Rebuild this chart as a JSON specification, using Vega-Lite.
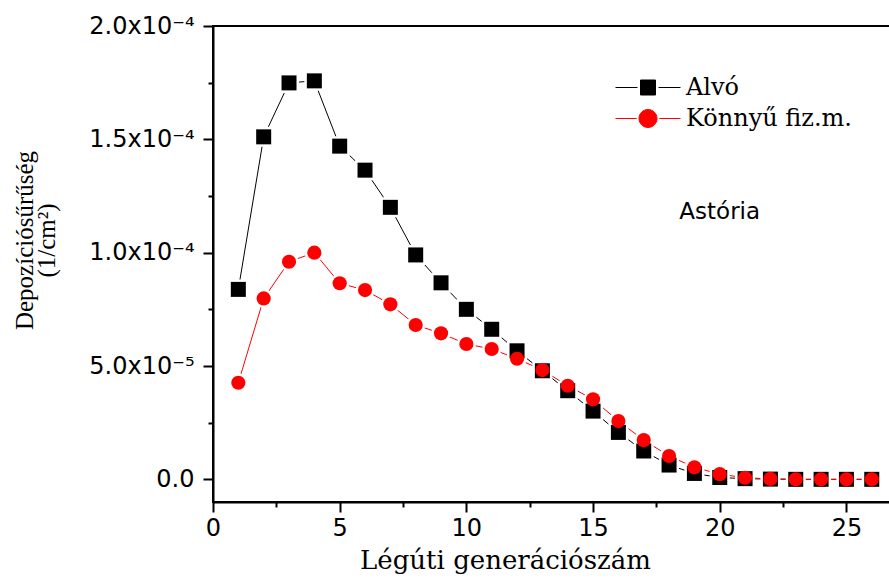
{
  "$schema": "https://vega.github.io/schema/vega-lite/v6.json",
  "width": 677,
  "height": 476,
  "autosize": "none",
  "padding": {"left": 213, "top": 26, "right": 0, "bottom": 81},
  "background": "white",
  "config": {
    "view": {"stroke": "black", "strokeWidth": 2},
    "axis": {"grid": false, "domainColor": "black", "tickColor": "black", "labelColor": "black", "titleColor": "black"}
  },
  "data": {
    "values": [
      {"gen": 1, "series": "Alvó", "value": 8.38e-5},
      {"gen": 2, "series": "Alvó", "value": 1.511e-4},
      {"gen": 3, "series": "Alvó", "value": 1.749e-4},
      {"gen": 4, "series": "Alvó", "value": 1.758e-4},
      {"gen": 5, "series": "Alvó", "value": 1.47e-4},
      {"gen": 6, "series": "Alvó", "value": 1.364e-4},
      {"gen": 7, "series": "Alvó", "value": 1.2e-4},
      {"gen": 8, "series": "Alvó", "value": 9.9e-5},
      {"gen": 9, "series": "Alvó", "value": 8.67e-5},
      {"gen": 10, "series": "Alvó", "value": 7.5e-5},
      {"gen": 11, "series": "Alvó", "value": 6.62e-5},
      {"gen": 12, "series": "Alvó", "value": 5.67e-5},
      {"gen": 13, "series": "Alvó", "value": 4.79e-5},
      {"gen": 14, "series": "Alvó", "value": 3.91e-5},
      {"gen": 15, "series": "Alvó", "value": 3.01e-5},
      {"gen": 16, "series": "Alvó", "value": 2.07e-5},
      {"gen": 17, "series": "Alvó", "value": 1.25e-5},
      {"gen": 18, "series": "Alvó", "value": 6.3e-6},
      {"gen": 19, "series": "Alvó", "value": 2.6e-6},
      {"gen": 20, "series": "Alvó", "value": 8e-7},
      {"gen": 21, "series": "Alvó", "value": 3e-7},
      {"gen": 22, "series": "Alvó", "value": 1e-7},
      {"gen": 23, "series": "Alvó", "value": 0},
      {"gen": 24, "series": "Alvó", "value": 0},
      {"gen": 25, "series": "Alvó", "value": 0},
      {"gen": 26, "series": "Alvó", "value": 0},
      {"gen": 1, "series": "Könnyű fiz.m.", "value": 4.26e-5},
      {"gen": 2, "series": "Könnyű fiz.m.", "value": 7.98e-5},
      {"gen": 3, "series": "Könnyű fiz.m.", "value": 9.6e-5},
      {"gen": 4, "series": "Könnyű fiz.m.", "value": 1.0e-4},
      {"gen": 5, "series": "Könnyű fiz.m.", "value": 8.65e-5},
      {"gen": 6, "series": "Könnyű fiz.m.", "value": 8.35e-5},
      {"gen": 7, "series": "Könnyű fiz.m.", "value": 7.72e-5},
      {"gen": 8, "series": "Könnyű fiz.m.", "value": 6.81e-5},
      {"gen": 9, "series": "Könnyű fiz.m.", "value": 6.44e-5},
      {"gen": 10, "series": "Könnyű fiz.m.", "value": 5.97e-5},
      {"gen": 11, "series": "Könnyű fiz.m.", "value": 5.75e-5},
      {"gen": 12, "series": "Könnyű fiz.m.", "value": 5.32e-5},
      {"gen": 13, "series": "Könnyű fiz.m.", "value": 4.82e-5},
      {"gen": 14, "series": "Könnyű fiz.m.", "value": 4.13e-5},
      {"gen": 15, "series": "Könnyű fiz.m.", "value": 3.53e-5},
      {"gen": 16, "series": "Könnyű fiz.m.", "value": 2.57e-5},
      {"gen": 17, "series": "Könnyű fiz.m.", "value": 1.73e-5},
      {"gen": 18, "series": "Könnyű fiz.m.", "value": 1.03e-5},
      {"gen": 19, "series": "Könnyű fiz.m.", "value": 5.3e-6},
      {"gen": 20, "series": "Könnyű fiz.m.", "value": 2.3e-6},
      {"gen": 21, "series": "Könnyű fiz.m.", "value": 7e-7},
      {"gen": 22, "series": "Könnyű fiz.m.", "value": 2e-7},
      {"gen": 23, "series": "Könnyű fiz.m.", "value": 0},
      {"gen": 24, "series": "Könnyű fiz.m.", "value": 0},
      {"gen": 25, "series": "Könnyű fiz.m.", "value": 0},
      {"gen": 26, "series": "Könnyű fiz.m.", "value": 0}
    ]
  },
  "layer": [
    {
      "mark": {"type": "line", "strokeWidth": 1},
      "encoding": {
        "x": {
          "field": "gen", "type": "quantitative",
          "scale": {"domain": [0, 26.72], "nice": false, "zero": false},
          "axis": {
            "orient": "bottom", "values": [0, 5, 10, 15, 20, 25],
            "tickSize": 10, "tickWidth": 2, "domainWidth": 2,
            "labelFont": "DejaVu Sans", "labelFontSize": 24, "labelPadding": 4,
            "labelFlush": false, "labelOverlap": false, "labelBound": false,
            "title": "Légúti generációszám", "titleFont": "DejaVu Serif", "titleFontSize": 26,
            "titleFontWeight": "normal", "titleX": 292, "titleY": 66,
            "titleBaseline": "alphabetic", "titleAlign": "center", "titleAnchor": null
          }
        },
        "y": {
          "field": "value", "type": "quantitative",
          "scale": {"domain": [-1.0e-5, 2.0e-4], "nice": false, "zero": false},
          "axis": {
            "orient": "left", "values": [0, 5e-5, 1e-4, 1.5e-4, 2e-4],
            "tickSize": 10, "tickWidth": 2, "domainWidth": 2,
            "labelFont": "DejaVu Sans", "labelFontSize": 24, "labelPadding": 9,
            "labelOverlap": false, "labelBound": false, "labelFlush": false,
            "labelExpr": "datum.value === 0 ? '0.0' : (datum.value < 9e-5 ? format(datum.value * 1e5, '.1f') + 'x10⁻⁵' : format(datum.value * 1e4, '.1f') + 'x10⁻⁴')",
            "title": ["Depozíciósűrűség", "(1/cm²)"],
            "titleFont": "Liberation Serif", "titleFontSize": 25, "titleFontWeight": "normal",
            "titleLineHeight": 22, "titleAngle": -90, "titleX": -201, "titleY": 214,
            "titleAlign": "center", "titleBaseline": "top", "titleAnchor": null
          }
        },
        "color": {
          "field": "series", "type": "nominal",
          "scale": {"domain": ["Alvó", "Könnyű fiz.m."], "range": ["#000000", "#ff0000"]},
          "legend": {
            "orient": "none", "legendX": 419.5, "legendY": 46, "title": null, "padding": 0,
            "symbolSize": 900, "labelOffset": 22.5, "rowPadding": 3, "labelLimit": 0,
            "labelFont": "DejaVu Serif", "labelFontSize": 24, "labelColor": "black",
            "symbolStrokeWidth": 1,
            "encoding": {
              "symbols": {
                "shape": {"value": {"expr": "datum.value === 'Alvó' ? 'M-2.167,0H-0.7M0.7,0H2.167M-0.5,-0.5H0.5V0.5H-0.5Z' : 'M-2.167,0H-0.75M0.75,0H2.167M0.6,0A0.6,0.6 0 1,1 -0.6,0A0.6,0.6 0 1,1 0.6,0Z'"}},
                "strokeWidth": {"value": 1},
                "opacity": {"value": 1},
                "fillOpacity": {"value": 1},
                "strokeOpacity": {"value": 1}
              }
            }
          }
        }
      }
    },
    {
      "transform": [{"filter": "datum.series === 'Alvó'"}],
      "mark": {"type": "point", "shape": "square", "size": 225, "filled": true, "fill": "white", "stroke": "white", "strokeWidth": 5, "opacity": 1},
      "encoding": {
        "x": {
          "field": "gen", "type": "quantitative",
          "scale": {"domain": [0, 26.72], "nice": false, "zero": false},
          "axis": {"orient": "bottom", "values": [2.5, 7.5, 12.5, 17.5, 22.5], "tickSize": 5, "tickWidth": 2, "labels": false, "domain": false, "title": null}
        },
        "y": {
          "field": "value", "type": "quantitative",
          "scale": {"domain": [-1.0e-5, 2.0e-4], "nice": false, "zero": false},
          "axis": {"orient": "left", "values": [2.5e-5, 7.5e-5, 1.25e-4, 1.75e-4], "tickSize": 5, "tickWidth": 2, "labels": false, "domain": false, "title": null}
        }
      }
    },
    {
      "transform": [{"filter": "datum.series !== 'Alvó'"}],
      "mark": {"type": "point", "shape": "circle", "size": 201, "filled": true, "fill": "white", "stroke": "white", "strokeWidth": 5, "opacity": 1},
      "encoding": {
        "x": {"field": "gen", "type": "quantitative", "scale": {"domain": [0, 26.72], "nice": false, "zero": false}, "axis": null},
        "y": {"field": "value", "type": "quantitative", "scale": {"domain": [-1.0e-5, 2.0e-4], "nice": false, "zero": false}, "axis": null}
      }
    },
    {
      "transform": [{"filter": "datum.series === 'Alvó'"}],
      "mark": {"type": "point", "shape": "square", "size": 225, "filled": true, "opacity": 1, "strokeWidth": 0},
      "encoding": {
        "x": {"field": "gen", "type": "quantitative", "scale": {"domain": [0, 26.72], "nice": false, "zero": false}, "axis": null},
        "y": {"field": "value", "type": "quantitative", "scale": {"domain": [-1.0e-5, 2.0e-4], "nice": false, "zero": false}, "axis": null},
        "color": {"field": "series", "type": "nominal", "scale": {"domain": ["Alvó", "Könnyű fiz.m."], "range": ["#000000", "#ff0000"]}}
      }
    },
    {
      "transform": [{"filter": "datum.series !== 'Alvó'"}],
      "mark": {"type": "point", "shape": "circle", "size": 201, "filled": true, "opacity": 1, "strokeWidth": 0},
      "encoding": {
        "x": {"field": "gen", "type": "quantitative", "scale": {"domain": [0, 26.72], "nice": false, "zero": false}, "axis": null},
        "y": {"field": "value", "type": "quantitative", "scale": {"domain": [-1.0e-5, 2.0e-4], "nice": false, "zero": false}, "axis": null},
        "color": {"field": "series", "type": "nominal", "scale": {"domain": ["Alvó", "Könnyű fiz.m."], "range": ["#000000", "#ff0000"]}}
      }
    },
    {
      "data": {"values": [{"label": "Astória"}]},
      "mark": {"type": "text", "font": "DejaVu Sans", "fontSize": 23, "align": "center", "baseline": "middle", "color": "black"},
      "encoding": {
        "x": {"datum": 20, "type": "quantitative", "scale": {"domain": [0, 26.72], "nice": false, "zero": false}, "axis": null},
        "y": {"datum": 0.000118, "type": "quantitative", "scale": {"domain": [-1.0e-5, 2.0e-4], "nice": false, "zero": false}, "axis": null},
        "text": {"field": "label"}
      }
    }
  ],
  "resolve": {"axis": {"x": "independent", "y": "independent"}}
}
